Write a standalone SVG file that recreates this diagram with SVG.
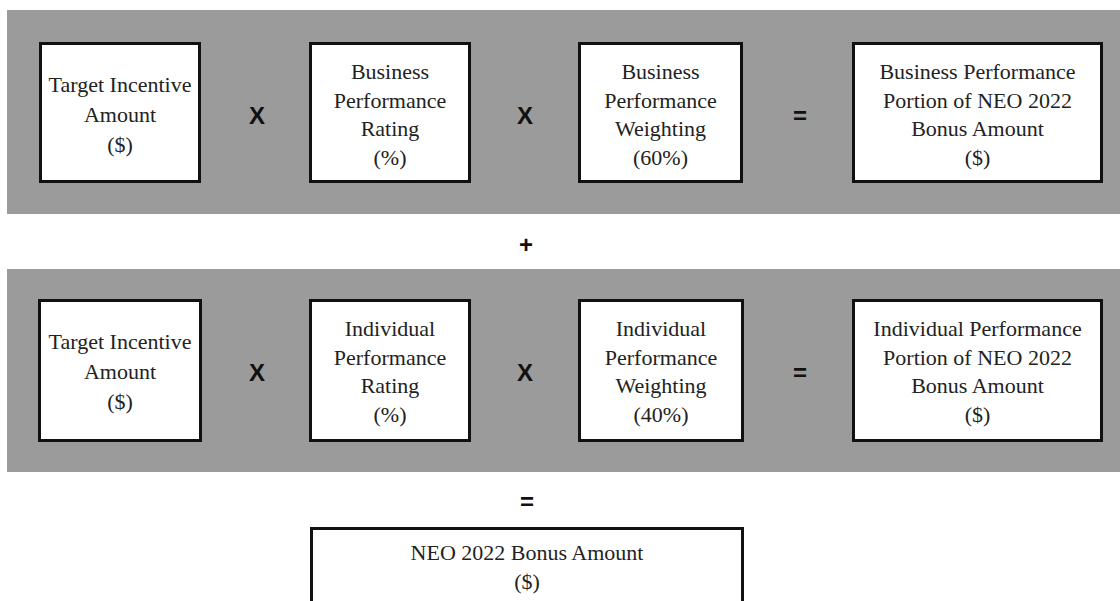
<svg xmlns="http://www.w3.org/2000/svg" width="1120" height="601" viewBox="0 0 1120 601">
<style>
.band{fill:#9b9b9b;}
.box{fill:#ffffff;stroke:#111;stroke-width:3;}
.t{font-family:"Liberation Serif","Times New Roman",serif;font-size:22px;fill:#222;text-anchor:middle;}
.op{font-family:"Liberation Sans",Arial,sans-serif;font-size:24px;font-weight:bold;fill:#111;text-anchor:middle;}
</style>
<rect width="1120" height="601" fill="#ffffff"/>
<rect class="band" x="7" y="10" width="1113" height="204"/>
<rect class="band" x="7" y="269" width="1113" height="203"/>
<g id="connectors">
<text class="op" x="257" y="124">X</text>
<text class="op" x="525" y="124">X</text>
<text class="op" x="800" y="124">=</text>
<text class="op" x="526" y="253">+</text>
<text class="op" x="257" y="381">X</text>
<text class="op" x="525" y="381">X</text>
<text class="op" x="800" y="381">=</text>
<text class="op" x="527" y="510">=</text>
</g>
<g id="r1b1">
<rect class="box" x="40.5" y="43.5" width="159" height="138"/>
<text class="t" x="120" y="92">Target Incentive</text>
<text class="t" x="120" y="122">Amount</text>
<text class="t" x="120" y="152">($)</text>
</g>
<g id="r1b2">
<rect class="box" x="310.5" y="43.5" width="159" height="138"/>
<text class="t" x="390" y="79">Business</text>
<text class="t" x="390" y="107.5">Performance</text>
<text class="t" x="390" y="136">Rating</text>
<text class="t" x="390" y="164.5">(%)</text>
</g>
<g id="r1b3">
<rect class="box" x="579.5" y="43.5" width="162" height="138"/>
<text class="t" x="660.5" y="79">Business</text>
<text class="t" x="660.5" y="107.5">Performance</text>
<text class="t" x="660.5" y="136">Weighting</text>
<text class="t" x="660.5" y="164.5">(60%)</text>
</g>
<g id="r1b4">
<rect class="box" x="853.5" y="43.5" width="248" height="138"/>
<text class="t" x="977.5" y="79">Business Performance</text>
<text class="t" x="977.5" y="107.5">Portion of NEO 2022</text>
<text class="t" x="977.5" y="136">Bonus Amount</text>
<text class="t" x="977.5" y="164.5">($)</text>
</g>
<g id="r2b1">
<rect class="box" x="39.5" y="300.5" width="161" height="140"/>
<text class="t" x="120" y="349">Target Incentive</text>
<text class="t" x="120" y="379">Amount</text>
<text class="t" x="120" y="409">($)</text>
</g>
<g id="r2b2">
<rect class="box" x="310.5" y="300.5" width="159" height="140"/>
<text class="t" x="390" y="336">Individual</text>
<text class="t" x="390" y="364.5">Performance</text>
<text class="t" x="390" y="393">Rating</text>
<text class="t" x="390" y="421.5">(%)</text>
</g>
<g id="r2b3">
<rect class="box" x="579.5" y="300.5" width="163" height="140"/>
<text class="t" x="661" y="336">Individual</text>
<text class="t" x="661" y="364.5">Performance</text>
<text class="t" x="661" y="393">Weighting</text>
<text class="t" x="661" y="421.5">(40%)</text>
</g>
<g id="r2b4">
<rect class="box" x="853.5" y="300.5" width="248" height="140"/>
<text class="t" x="977.5" y="336">Individual Performance</text>
<text class="t" x="977.5" y="364.5">Portion of NEO 2022</text>
<text class="t" x="977.5" y="393">Bonus Amount</text>
<text class="t" x="977.5" y="421.5">($)</text>
</g>
<g id="total">
<rect class="box" x="311.5" y="528.5" width="431" height="90"/>
<text class="t" x="527" y="560">NEO 2022 Bonus Amount</text>
<text class="t" x="527" y="589">($)</text>
</g>
</svg>
